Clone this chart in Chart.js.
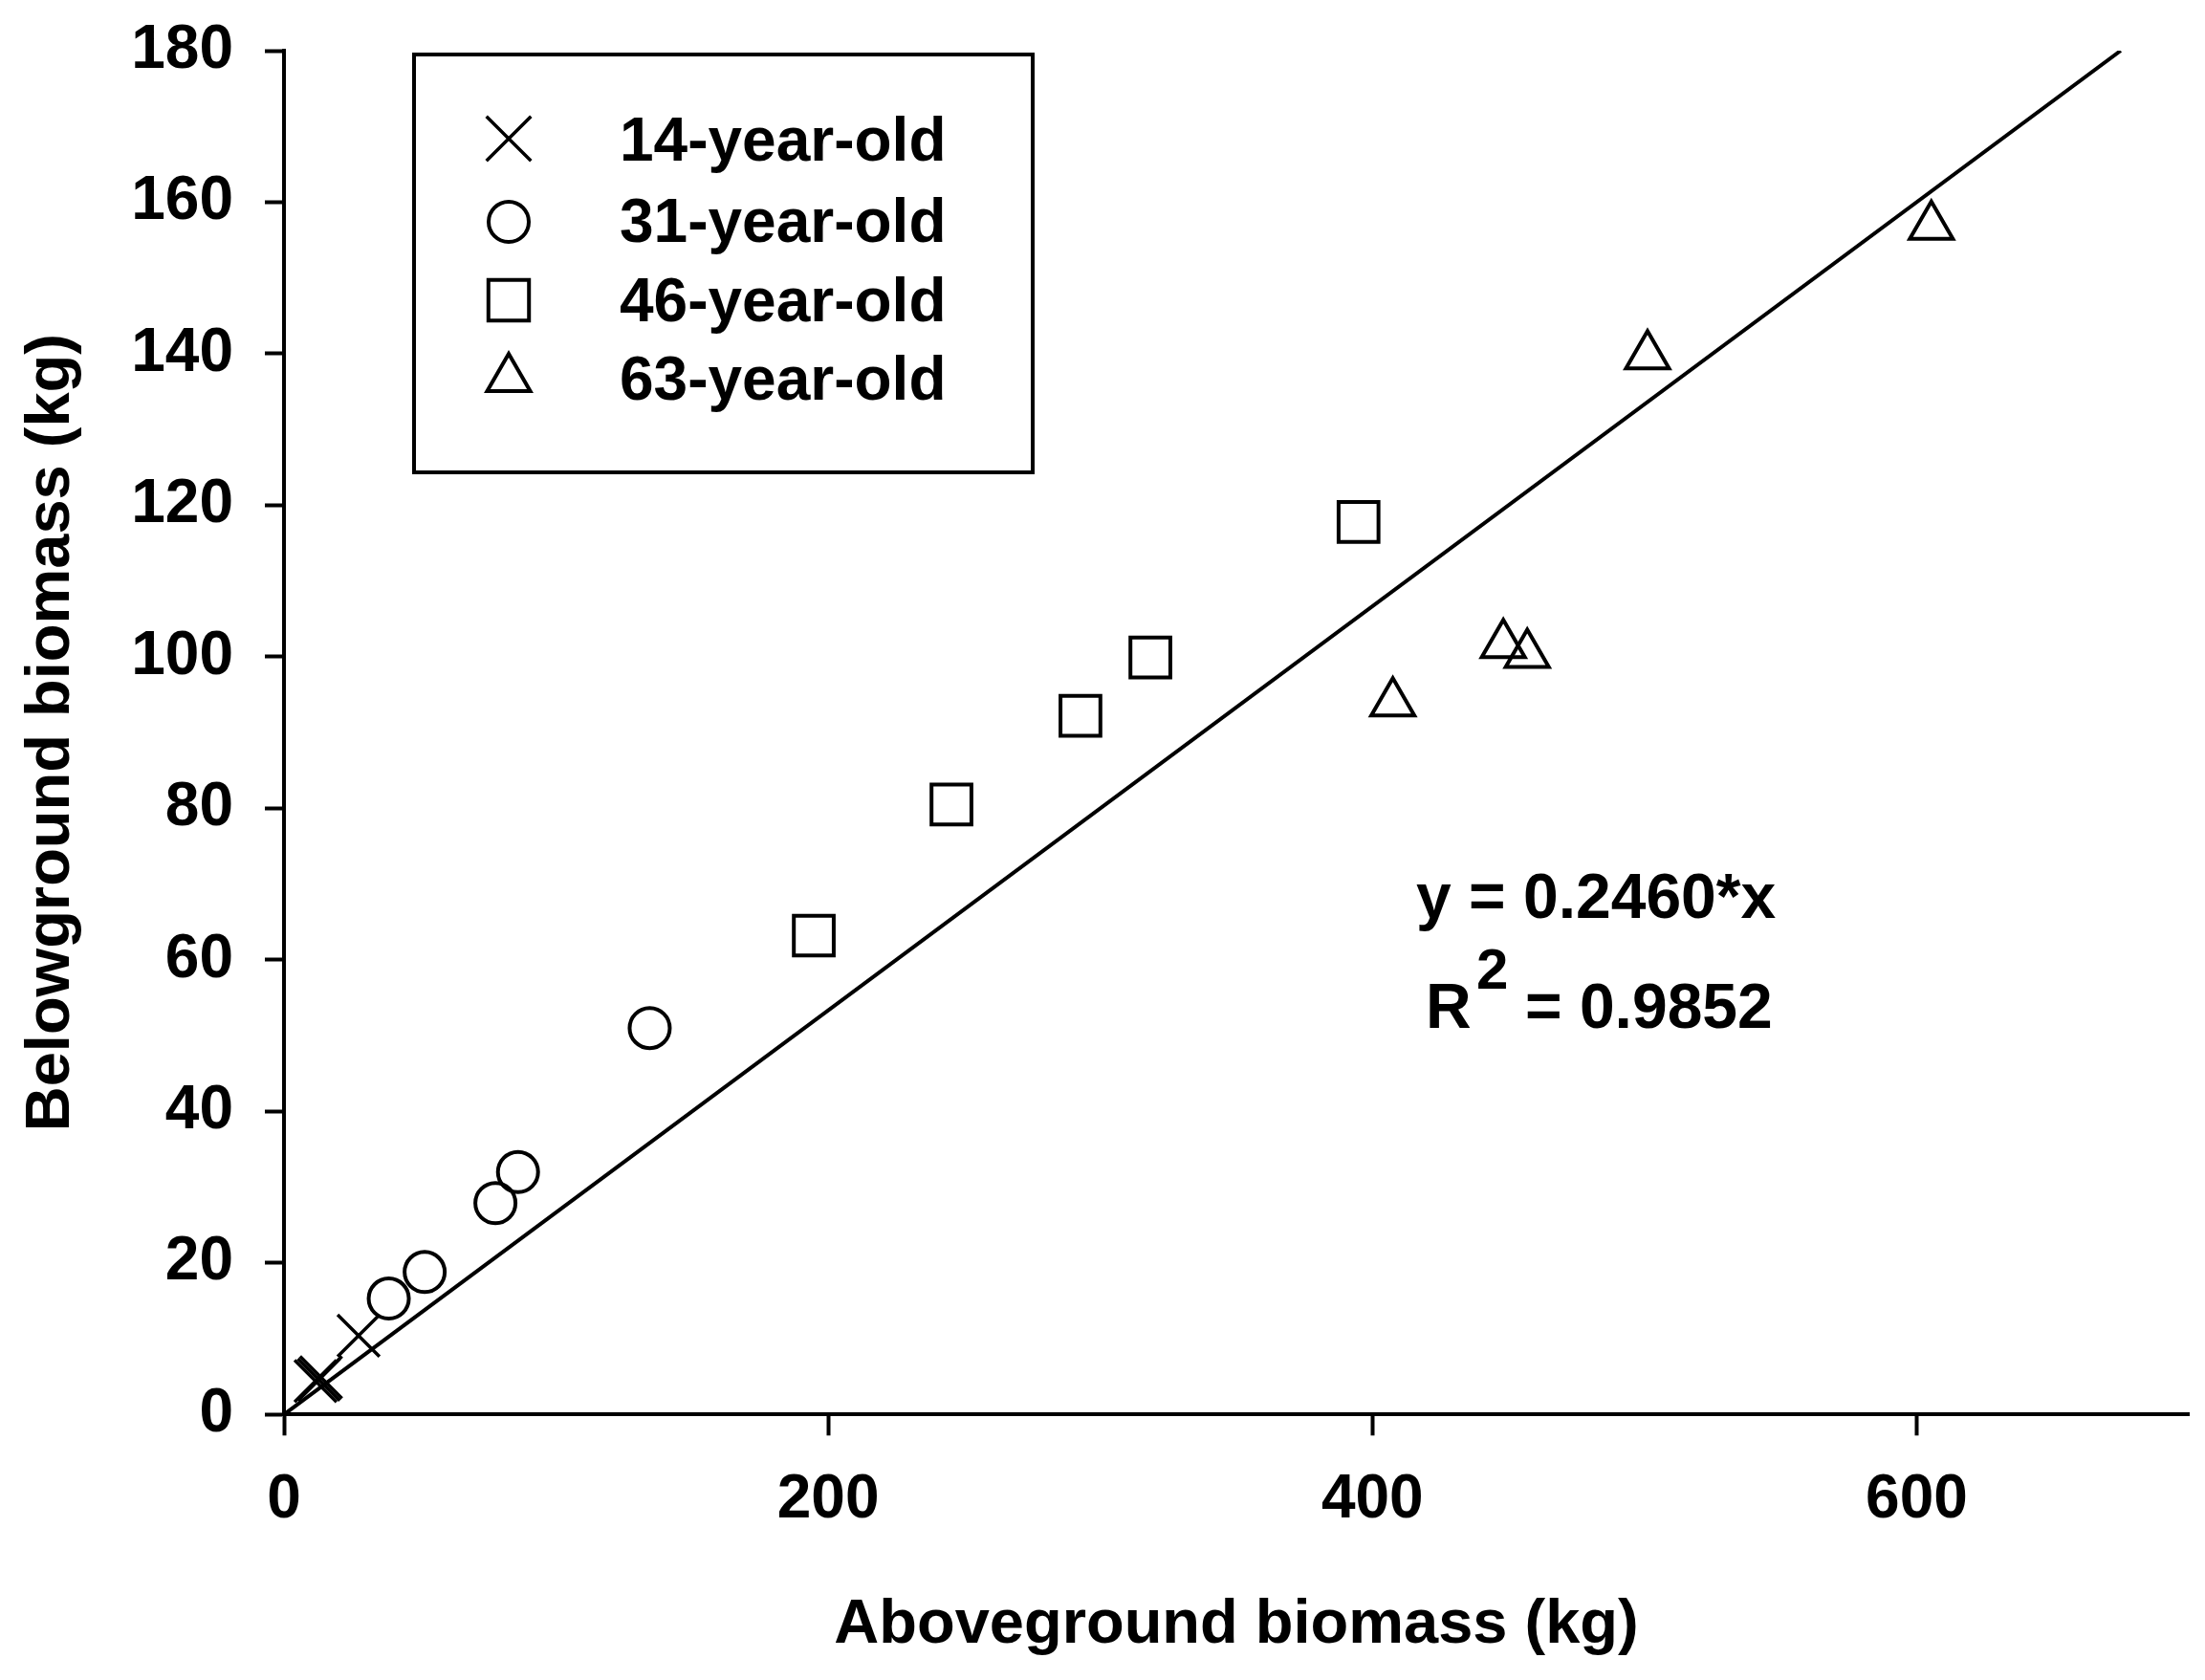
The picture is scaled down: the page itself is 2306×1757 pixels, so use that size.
<!DOCTYPE html>
<html><head><meta charset="utf-8">
<script src="https://cdn.jsdelivr.net/npm/chart.js@4.4.1/dist/chart.umd.min.js"></script>
<style>html,body{margin:0;padding:0;background:#fff;overflow:hidden}</style>
</head><body>
<canvas id="c" width="2306" height="1757" style="display:block;width:2306px;height:1757px"></canvas>
<script>
const FONT = '"Liberation Sans", Arial, Helvetica, sans-serif';

// ---- data ----
const seriesLabels = ['14-year-old', '31-year-old', '46-year-old', '63-year-old'];
const age14X = [11.6, 12.8, 13.6, 27.4];
const age14Y = [4.4, 4.6, 4.9, 10.4];
const age31X = [38.5, 51.7, 77.7, 86.0, 134.4];
const age31Y = [15.3, 18.8, 27.9, 32.0, 51.0];
const age46X = [194.7, 245.3, 292.7, 318.4, 394.9];
const age46Y = [63.2, 80.5, 92.2, 99.9, 117.8];
const age63X = [407.5, 448.1, 456.9, 501.1, 605.4];
const age63Y = [93.9, 101.6, 100.3, 139.7, 156.8];
const fitX = [0, 675];
const fitY = [0, 180];
const xTicks = [0, 200, 400, 600];
const yTicks = [0, 20, 40, 60, 80, 100, 120, 140, 160, 180];
const eqLine1 = 'y = 0.2460*x';
const eqR2 = '0.9852';

const pts = (xs, ys) => xs.map((x, i) => ({x: x, y: ys[i]}));

const markerStyles = ['crossRot', 'circle', 'rect', 'triangle'];
const markerRadius = [31, 21, 29.5, 26];
const markerBorder = [3.5, 4, 4, 4];
const seriesData = [pts(age14X, age14Y), pts(age31X, age31Y), pts(age46X, age46Y), pts(age63X, age63Y)];

const datasets = seriesData.map((d, i) => ({
  label: seriesLabels[i],
  data: d,
  showLine: false,
  pointStyle: markerStyles[i],
  pointRadius: markerRadius[i],
  pointBorderWidth: markerBorder[i],
  pointBorderColor: '#000',
  pointBackgroundColor: 'rgba(0,0,0,0)',
  borderColor: '#000',
  backgroundColor: 'rgba(0,0,0,0)'
}));
datasets.push({
  label: 'fit',
  data: pts(fitX, fitY),
  showLine: true,
  borderColor: '#000',
  borderWidth: 4,
  pointRadius: 0,
  fill: false
});

function drawMarker(ctx, style, r, bw, x, y) {
  ctx.save();
  ctx.strokeStyle = '#000';
  ctx.fillStyle = 'rgba(0,0,0,0)';
  ctx.lineWidth = bw;
  if (window.Chart && Chart.helpers && Chart.helpers.drawPoint) {
    Chart.helpers.drawPoint(ctx, {pointStyle: style, radius: r, borderWidth: bw, rotation: 0}, x, y);
  } else {
    ctx.beginPath();
    if (style === 'circle') ctx.arc(x, y, r, 0, Math.PI * 2);
    else if (style === 'rect') { const s = r * Math.SQRT1_2; ctx.rect(x - s, y - s, 2 * s, 2 * s); }
    else if (style === 'triangle') {
      for (let k = 0; k < 3; k++) { const a = k * 2 * Math.PI / 3; const px = x + Math.sin(a) * r, py = y - Math.cos(a) * r; k ? ctx.lineTo(px, py) : ctx.moveTo(px, py); }
      ctx.closePath();
    } else { const o = r * Math.SQRT1_2; ctx.moveTo(x - o, y - o); ctx.lineTo(x + o, y + o); ctx.moveTo(x + o, y - o); ctx.lineTo(x - o, y + o); }
    ctx.stroke();
  }
  ctx.restore();
}

const annotations = {
  id: 'annotations',
  afterDraw(chart) {
    const ctx = chart.ctx;
    ctx.save();
    // legend box
    ctx.strokeStyle = '#000';
    ctx.lineWidth = 4;
    ctx.strokeRect(433, 57, 647, 437);
    const markerX = 532;
    const markerY = [145, 232, 314, 396];
    const textBase = [168, 253, 336, 418];
    const legendR = [33, 21, 30, 26];
    for (let i = 0; i < 4; i++) {
      drawMarker(ctx, markerStyles[i], legendR[i], markerBorder[i], markerX, markerY[i]);
      ctx.fillStyle = '#000';
      ctx.font = 'bold 64px ' + FONT;
      ctx.textAlign = 'left';
      ctx.textBaseline = 'alphabetic';
      ctx.fillText(chart.data.datasets[i].label, 648, textBase[i]);
    }
    // equation
    ctx.fillStyle = '#000';
    ctx.textAlign = 'left';
    ctx.textBaseline = 'alphabetic';
    ctx.font = 'bold 66px ' + FONT;
    ctx.fillText(eqLine1, 1481, 960);
    ctx.fillText('R', 1491, 1075);
    ctx.fillText('= ' + eqR2, 1595, 1075);
    ctx.font = 'bold 60px ' + FONT;
    ctx.fillText('2', 1544, 1034);
    ctx.restore();
  }
};

const tickFont = {family: FONT, size: 64, weight: 'bold'};
const titleFont = {family: FONT, size: 65, weight: 'bold'};

function noOverflow(s) {
  s.paddingTop = 0; s.paddingBottom = 0; s.paddingLeft = 0; s.paddingRight = 0;
}

new Chart(document.getElementById('c'), {
  type: 'scatter',
  data: {datasets: datasets},
  options: {
    responsive: false,
    devicePixelRatio: 1,
    animation: false,
    layout: {autoPadding: false, padding: {left: 0, top: 53, right: 17, bottom: 0}},
    plugins: {legend: {display: false}, tooltip: {enabled: false}},
    scales: {
      x: {
        type: 'linear', position: 'bottom', min: 0, max: 700,
        afterBuildTicks(s) { s.ticks = xTicks.map(v => ({value: v})); },
        ticks: {color: '#000', font: tickFont, padding: 30, maxRotation: 0, includeBounds: false},
        grid: {display: true, drawOnChartArea: false, drawTicks: true, tickLength: 22, tickWidth: 4, tickColor: '#000', color: '#000'},
        border: {display: true, color: '#000', width: 4},
        title: {display: true, text: 'Aboveground biomass (kg)', color: '#000', font: titleFont, padding: {top: 0, bottom: 18}},
        afterFit(s) { s.height = 277.7; noOverflow(s); }
      },
      y: {
        type: 'linear', position: 'left', min: 0, max: 180,
        afterBuildTicks(s) { s.ticks = yTicks.map(v => ({value: v})); },
        ticks: {color: '#000', font: tickFont, padding: 33},
        grid: {display: true, drawOnChartArea: false, drawTicks: true, tickLength: 20, tickWidth: 4, tickColor: '#000', color: '#000'},
        border: {display: true, color: '#000', width: 4},
        title: {display: true, text: 'Belowground biomass (kg)', color: '#000', font: titleFont, padding: {top: 15, bottom: 0}},
        afterFit(s) { s.width = 297; noOverflow(s); }
      }
    }
  },
  plugins: [annotations]
});
</script>
</body></html>
